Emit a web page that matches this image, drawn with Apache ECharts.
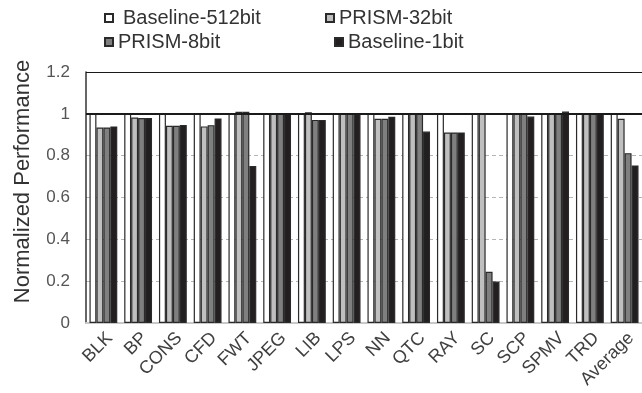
<!DOCTYPE html>
<html>
<head>
<meta charset="utf-8">
<script src="https://cdn.jsdelivr.net/npm/echarts@6/dist/echarts.min.js"></script>
<style>html,body{margin:0;padding:0;background:#fff;}#c{width:642px;height:393px;}</style>
</head>
<body>
<div id="c"></div>
<script>
const categories = ['BLK','BP','CONS','CFD','FWT','JPEG','LIB','LPS','NN','QTC','RAY','SC','SCP','SPMV','TRD','Average'];
const baseline512 = [1,1,1,1,1,1,1,1,1,1,1,1,1,1,1,1];
const prism32 = [0.935,0.982,0.943,0.940,1.010,1.0,1.007,1.0,0.976,1.0,0.911,1.0,1.0,1.0,1.0,0.976];
const prism8 = [0.935,0.980,0.943,0.946,1.010,1.0,0.971,1.0,0.976,1.0,0.911,0.245,1.0,1.0,1.0,0.812];
const baseline1 = [0.940,0.980,0.947,0.978,0.751,1.0,0.971,1.0,0.986,0.915,0.911,0.198,0.987,1.011,1.0,0.753];
const yTicks = [0,0.2,0.4,0.6,0.8,1,1.2];
const refLines = [1, 1.2];

const font = 'Liberation Sans, Arial, sans-serif';
const chart = echarts.init(document.getElementById('c'), null, {renderer:'canvas'});
const border = '#2a2a2a';
function mk(name, data, color){
  return {name, type:'bar', data, barGap:'0%', barCategoryGap:'20%',
    itemStyle:{color, borderColor:border, borderWidth:1.2}, animation:false};
}
const legendBase = {icon:'rect', itemWidth:8, itemHeight:8, itemGap:0, textStyle:{fontFamily:font, fontSize:20, color:'#333'}, selectedMode:false};
chart.setOption({
  animation:false,
  legend:[
    Object.assign({}, legendBase, {data:['Baseline-512bit'], left:99, top:3, textStyle:Object.assign({}, legendBase.textStyle, {padding:[0,0,0,5]})}),
    Object.assign({}, legendBase, {data:['PRISM-32bit'], left:320, top:3}),
    Object.assign({}, legendBase, {data:['PRISM-8bit'], left:99, top:27}),
    Object.assign({}, legendBase, {data:['Baseline-1bit'], left:329, top:27})
  ],
  grid:{left:86, right:-4, top:72, bottom:70, containLabel:false},
  xAxis:{type:'category', data:categories,
    axisLine:{show:true, lineStyle:{color:'#c8c8c8', width:2}},
    axisTick:{show:false},
    axisLabel:{rotate:45, interval:0, margin:6, verticalAlign:'top', fontFamily:font, fontSize:18, color:'#404040'}},
  yAxis:{type:'value', min:yTicks[0], max:yTicks[yTicks.length-1], interval:0.2,
    name:'Normalized Performance', nameLocation:'middle', nameGap:52,
    nameTextStyle:{fontFamily:font, fontSize:22, color:'#333', padding:[0,0,0,32]},
    axisLine:{show:true, lineStyle:{color:'#333', width:1.5}},
    axisTick:{show:false},
    axisLabel:{margin:16, fontFamily:font, fontSize:17, color:'#555'},
    splitLine:{show:true, lineStyle:{color:'#b5b5b5', type:[4,3], width:1}}},
  series:[
    mk('Baseline-512bit', baseline512, '#ffffff'),
    Object.assign(mk('PRISM-32bit', prism32, '#bfbfbf'), {
      markLine:{silent:true, symbol:'none', label:{show:false},
        data:[{yAxis:refLines[0], lineStyle:{color:'#1a1a1a', width:2.2, type:'solid'}},
              {yAxis:refLines[1], lineStyle:{color:'#1a1a1a', width:1.2, type:'solid'}}]}
    }),
    mk('PRISM-8bit', prism8, '#7f7f7f'),
    mk('Baseline-1bit', baseline1, '#231f20')
  ]
});
</script>
</body>
</html>
